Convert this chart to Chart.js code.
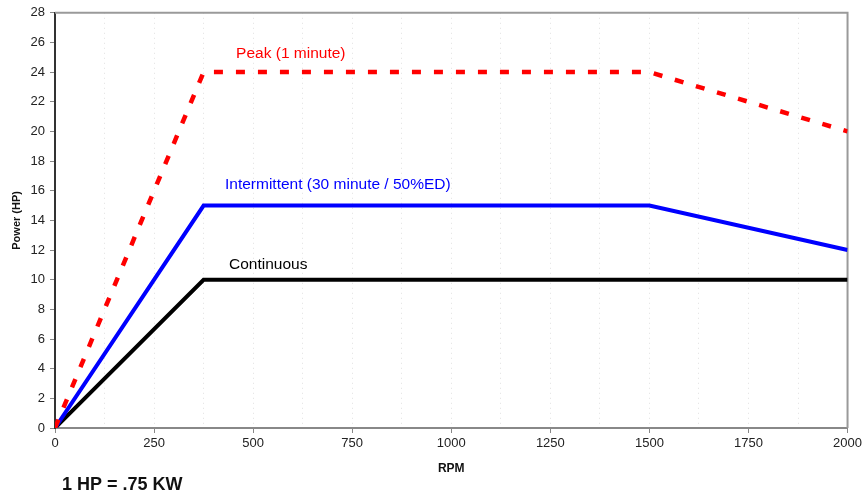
<!DOCTYPE html>
<html>
<head>
<meta charset="utf-8">
<script src="https://cdn.jsdelivr.net/npm/chart.js@4"></script>
<style>
  html, body { margin: 0; padding: 0; background: #fff; }
  #wrap { width: 865px; height: 498px; }
</style>
</head>
<body>
<div id="wrap"><canvas id="myChart" width="865" height="498"></canvas></div>
<script>
// values
var peakRpm = [0, 375, 1500, 2000];
var peakHp = [0, 24, 24, 20];
var interRpm = [0, 375, 1500, 2000];
var interHp = [0, 15, 15, 12];
var contRpm = [0, 375, 2000];
var contHp = [0, 10, 10];
var seriesNames = ['Peak (1 minute)', 'Intermittent (30 minute / 50%ED)', 'Continuous'];

var FONT = '"Liberation Sans", Arial, sans-serif';

function pts(xs, ys) {
  return xs.map(function (x, i) { return { x: x, y: ys[i] }; });
}

// text labels placed next to each curve, in data units
var labelPlaces = [
  { x: 457, y: 25.25, color: '#ff0000' },
  { x: 429, y: 16.4, color: '#0000ff' },
  { x: 439, y: 11.0, color: '#000000' }
];

var extras = {
  id: 'extras',
  beforeDatasetsDraw: function (chart) {
    var ctx = chart.ctx, a = chart.chartArea;
    ctx.save();
    ctx.strokeStyle = '#9a9a9a';
    ctx.lineWidth = 2;
    ctx.beginPath();
    ctx.moveTo(a.left, a.top);
    ctx.lineTo(a.right, a.top);
    ctx.lineTo(a.right, a.bottom);
    ctx.stroke();
    ctx.restore();
  },
  afterDraw: function (chart) {
    var ctx = chart.ctx;
    var xs = chart.scales.x, ys = chart.scales.y;
    ctx.save();
    ctx.font = '15.5px ' + FONT;
    ctx.textBaseline = 'middle';
    ctx.textAlign = 'left';
    labelPlaces.forEach(function (p, i) {
      ctx.fillStyle = p.color;
      ctx.fillText(seriesNames[i], xs.getPixelForValue(p.x), ys.getPixelForValue(p.y));
    });
    ctx.font = 'bold 18px ' + FONT;
    ctx.fillStyle = '#111';
    ctx.fillText('1 HP = .75 KW', 62, 485);
    ctx.restore();
  }
};

var chartData = {
  datasets: [{
    label: seriesNames[0],
    data: pts(peakRpm, peakHp),
    borderColor: '#ff0000',
    borderWidth: 4.5,
    borderDash: [9, 13],
    pointRadius: 0,
    tension: 0
  }, {
    label: seriesNames[1],
    data: pts(interRpm, interHp),
    borderColor: '#0000ff',
    borderWidth: 4,
    pointRadius: 0,
    tension: 0
  }, {
    label: seriesNames[2],
    data: pts(contRpm, contHp),
    borderColor: '#000000',
    borderWidth: 4,
    pointRadius: 0,
    tension: 0
  }]
};

var chartOptions = {
  responsive: false,
  animation: false,
  layout: { padding: { left: 10, top: 11, right: 17, bottom: 22 } },
  plugins: { legend: { display: false }, tooltip: { enabled: false } },
  scales: {
    x: {
      type: 'linear',
      min: 0, max: 2000,
      afterFit: function (s) { s.height = 48; },
      ticks: {
        stepSize: 125,
        color: '#222',
        padding: 3,
        font: { family: FONT, size: 13 },
        maxRotation: 0,
        autoSkip: false,
        callback: function (v) { return v % 250 === 0 ? String(v) : ''; }
      },
      grid: {
        color: function (c) {
          var v = c.tick ? c.tick.value : 0;
          return (v === 0 || v === 2000) ? 'rgba(0,0,0,0)' : 'rgba(0,0,0,0.12)';
        },
        tickColor: function (c) {
          var v = c.tick ? c.tick.value : 0;
          return v % 250 === 0 ? '#888' : 'rgba(0,0,0,0)';
        },
        tickLength: 5,
        tickWidth: 1
      },
      border: { color: '#888', width: 2, dash: [1, 4] },
      title: {
        display: true, text: 'RPM', color: '#111',
        font: { family: FONT, size: 12, weight: 'bold' },
        padding: 0
      }
    },
    y: {
      min: 0, max: 28,
      afterFit: function (s) { s.width = 45; },
      ticks: {
        stepSize: 2,
        color: '#222',
        padding: 5,
        font: { family: FONT, size: 13 }
      },
      grid: { display: true, drawOnChartArea: false, tickColor: '#888', tickLength: 5 },
      border: { color: '#333', width: 2 },
      title: {
        display: true, text: 'Power (HP)', color: '#111',
        font: { family: FONT, size: 11, weight: 'bold' },
        padding: 0
      }
    }
  }
};

var element = document.getElementById('myChart').getContext('2d');
var chart = new Chart(element, { type: 'line', data: chartData, options: chartOptions, plugins: [extras] });
</script>
</body>
</html>
